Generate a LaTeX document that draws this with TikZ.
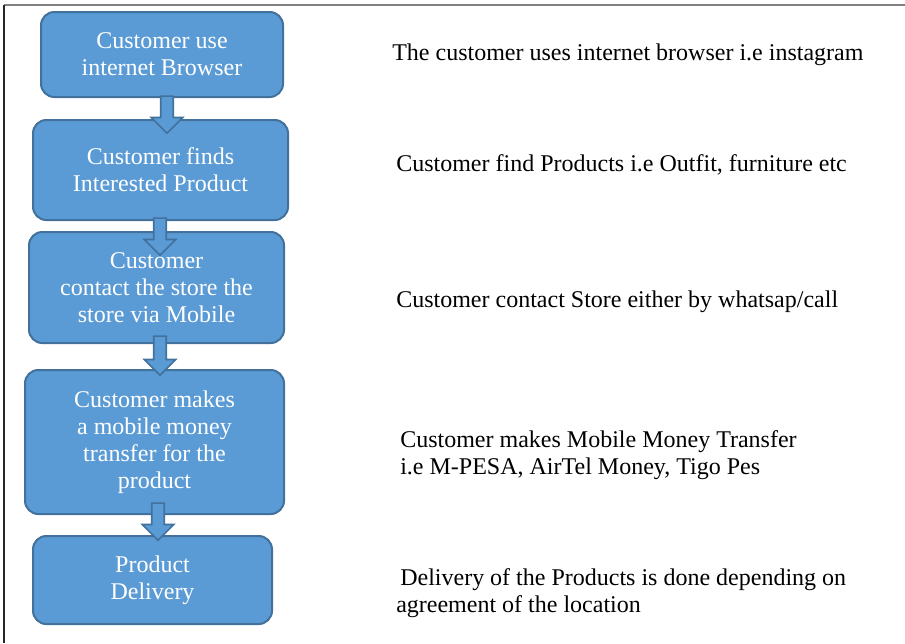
\documentclass[tikz,border=0pt]{standalone}
\usepackage{fontspec}
\setmainfont{Liberation Serif}
\usetikzlibrary{shapes.arrows}
\definecolor{boxblue}{HTML}{5B9BD5}
\definecolor{boxline}{HTML}{41719C}
\tikzset{
  stepbox/.style={draw=boxline, fill=boxblue, line width=1.5pt, rounded corners=10pt, text=white, align=center, font=\fontsize{18}{20.25}\selectfont},
  blockarrow/.style={single arrow, draw=boxline, fill=boxblue, line width=1.2pt, inner sep=4.1pt, single arrow head extend=7pt, shape border rotate=270},
  desc/.style={anchor=west, align=left, inner sep=0pt, font=\fontsize{18}{20.25}\selectfont}
}
\begin{document}
\begin{tikzpicture}[x=0.75pt, y=-0.75pt]
\useasboundingbox (0,0) rectangle (905,643);
% frame
\draw [gray, line width=1.5pt](905,5)--(4,5);
\draw [black!85, line width=1pt](4,5)--(4,643);
% steps
\node (browse) [stepbox, minimum width=181.5pt, minimum height=63.75pt] at (162,54.5) {Customer use\\internet Browser};
\node (finds) [stepbox, minimum width=191.25pt, minimum height=75pt] at (160.5,170) {Customer finds\\Interested Product};
\node (contact) [stepbox, minimum width=191.25pt, minimum height=83.25pt] at (156.5,287.5) {Customer\\contact the store the\\store via Mobile};
\node (payment) [stepbox, minimum width=194.25pt, minimum height=108pt] at (154.5,442) {Customer makes\\a mobile money\\transfer for the\\product};
\node (delivery) [stepbox, minimum width=179.25pt, minimum height=66pt] at (152.5,580) {Product\\Delivery};
% arrows between steps
\node (arrowa) [blockarrow, minimum height=27.75pt] at (167,111.5) {};
\node (arrowb) [blockarrow, minimum height=27.75pt] at (160,233.5) {};
\node (arrowc) [blockarrow, minimum height=29.25pt] at (160,352.5) {};
\node (arrowd) [blockarrow, minimum height=27.75pt] at (158,518.5) {};
% descriptions
\node (browsetxt) [desc] at (392,55) {The customer uses internet browser i.e instagram};
\node (findstxt) [desc] at (396,165) {Customer find Products i.e Outfit, furniture etc};
\node (contacttxt) [desc] at (396,302) {Customer contact Store either by whatsap/call};
\node (paymenttxt) [desc] at (400,455) {Customer makes Mobile Money Transfer\\i.e M-PESA, AirTel Money, Tigo Pes};
\node (deliverytxt) [desc] at (396,593.5) {\hspace{3pt}Delivery of the Products is done depending on\\agreement of the location};
\end{tikzpicture}
\end{document}
